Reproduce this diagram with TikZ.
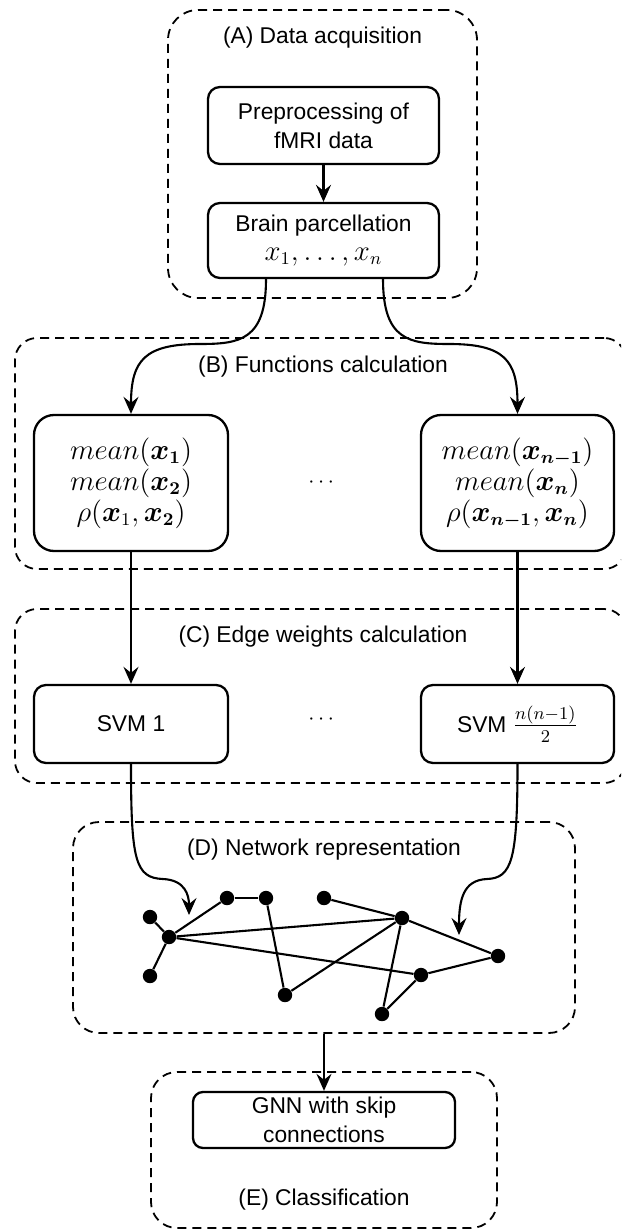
\documentclass[tikz,border=0pt]{standalone}
\usepackage{amsmath}
\usepackage{bm}
\usepackage[no-math]{fontspec}
\setmainfont{Liberation Sans}
\usetikzlibrary{arrows.meta}
\newcommand\largemath{\fontsize{13.5}{14}\selectfont}
\begin{document}
\begin{tikzpicture}[x=0.5pt,y=-0.5pt,
  every node/.style={font=\fontsize{11.4}{14.5}\selectfont, align=center, inner sep=0pt},
  group/.style={draw, dash pattern=on 4.5pt off 3pt, line width=0.9pt, rounded corners=#1},
  group/.default=11pt,
  stepbox/.style={draw, line width=1.15pt, rounded corners=6pt},
  title/.style={},
  dot/.style={circle, fill=black, minimum size=7.2pt, inner sep=0pt},
  edge/.style={line width=1.05pt},
  arr/.style={line width=1.05pt, -{Stealth[length=8.5pt,width=7.5pt,inset=3pt]}}]

\clip (0,0) rectangle (621,1230);
\fill[white] (0,0) rectangle (621,1230);

% dashed stage frames
\node[group=15pt, minimum width=154.5pt, minimum height=144pt] (gA) at (322.5,154) {};
\node[group, minimum width=305.5pt, minimum height=115.5pt] (gB) at (320.5,453.5) {};
\node[group, minimum width=305.5pt, minimum height=87pt] (gC) at (320.5,696) {};
\node[group=13pt, minimum width=251pt, minimum height=105.5pt] (gD) at (324,927.5) {};
\node[group=13pt, minimum width=173pt, minimum height=78pt] (gE) at (324,1150) {};

% stage titles
\node[title] (tA) at (322.5,38) {(A) Data acquisition};
\node[title] (tB) at (323,367) {(B) Functions calculation};
\node[title] (tC) at (323,637) {(C) Edge weights calculation};
\node[title] (tD) at (324,850) {(D) Network representation};
\node[title] (tE) at (324,1200) {(E) Classification};

% (A) data acquisition
\node[stepbox, minimum width=115.5pt, minimum height=38.5pt] (pre) at (323.5,125.5) {Preprocessing of\\fMRI data};
\node[stepbox, minimum width=115.5pt, minimum height=37.5pt] (brain) at (323.5,240.5) {Brain parcellation\\{\largemath$x_1, \ldots, x_n$}};

% (B) functions
\node[stepbox, rounded corners=10pt, minimum width=97pt, minimum height=68pt, font=\largemath] (mL) at (131,483)
  {$mean(\boldsymbol{x_1})$\\$mean(\boldsymbol{x_2})$\\$\rho(\boldsymbol{x}_1,\boldsymbol{x_2})$};
\node[stepbox, rounded corners=10pt, minimum width=96.5pt, minimum height=68pt, font=\largemath] (mR) at (517.5,483)
  {$mean(\boldsymbol{x_{n-1}})$\\$mean(\boldsymbol{x_n})$\\$\rho(\boldsymbol{x_{n-1}},\boldsymbol{x_n})$};
\node (dB) at (323,483) {$\cdots$};

% (C) edge weights
\node[stepbox, minimum width=97pt, minimum height=39pt] (s1) at (131,724) {SVM 1};
\node[stepbox, minimum width=96.5pt, minimum height=39pt] (s2) at (517.5,724) {SVM {\largemath$\frac{n(n-1)}{2}$}};
\node (dC) at (323,720) {$\cdots$};

% (D) network
\node[dot] (g1) at (150,917) {};
\node[dot] (g2) at (169,937) {};
\node[dot] (g3) at (150,976) {};
\node[dot] (g4) at (227,898) {};
\node[dot] (g5) at (266,898) {};
\node[dot] (g6) at (285,995) {};
\node[dot] (g7) at (324,898) {};
\node[dot] (g8) at (402,918) {};
\node[dot] (g9) at (498,956) {};
\node[dot] (g10) at (421,975) {};
\node[dot] (g11) at (382,1014) {};
\draw[edge] (g2) -- (g1);
\draw[edge] (g2) -- (g3);
\draw[edge] (g2) -- (g4);
\draw[edge] (g4) -- (g5);
\draw[edge] (g5) -- (g6);
\draw[edge] (g6) -- (g8);
\draw[edge] (g2) -- (g8);
\draw[edge] (g2) -- (g10);
\draw[edge] (g7) -- (g8);
\draw[edge] (g8) -- (g9);
\draw[edge] (g9) -- (g10);
\draw[edge] (g10) -- (g11);
\draw[edge] (g11) -- (g8);

% (E) classification
\node[stepbox, rounded corners=5pt, minimum width=131pt, minimum height=28pt] (gnn) at (324,1120) {GNN with skip\\connections};

% connectors
\coordinate (tipL) at (189,915);
\coordinate (tipR) at (459,935);
\draw[arr] (pre) -- (brain);
\draw[arr] ([xshift=-28.75pt]brain.south) .. controls (266,340) and (240,344) .. (200,344) .. controls (145,344) and (131,360) .. (mL.north);
\draw[arr] ([xshift=29.75pt]brain.south) .. controls (383,340) and (409,344) .. (449,344) .. controls (504,344) and (517.5,360) .. (mR.north);
\draw[arr] (mL) -- (s1);
\draw[arr] (mR) -- (s2);
\draw[arr] (s1.south) .. controls (131,860) and (135,878) .. (163,879) .. controls (185,880) and (189,895) .. (tipL);
\draw[arr] (s2.south) .. controls (517.5,860) and (512,878) .. (487,879) .. controls (463,880) and (459,900) .. (tipR);
\draw[arr] (gD.south) -- (gnn.north);
\end{tikzpicture}
\end{document}
